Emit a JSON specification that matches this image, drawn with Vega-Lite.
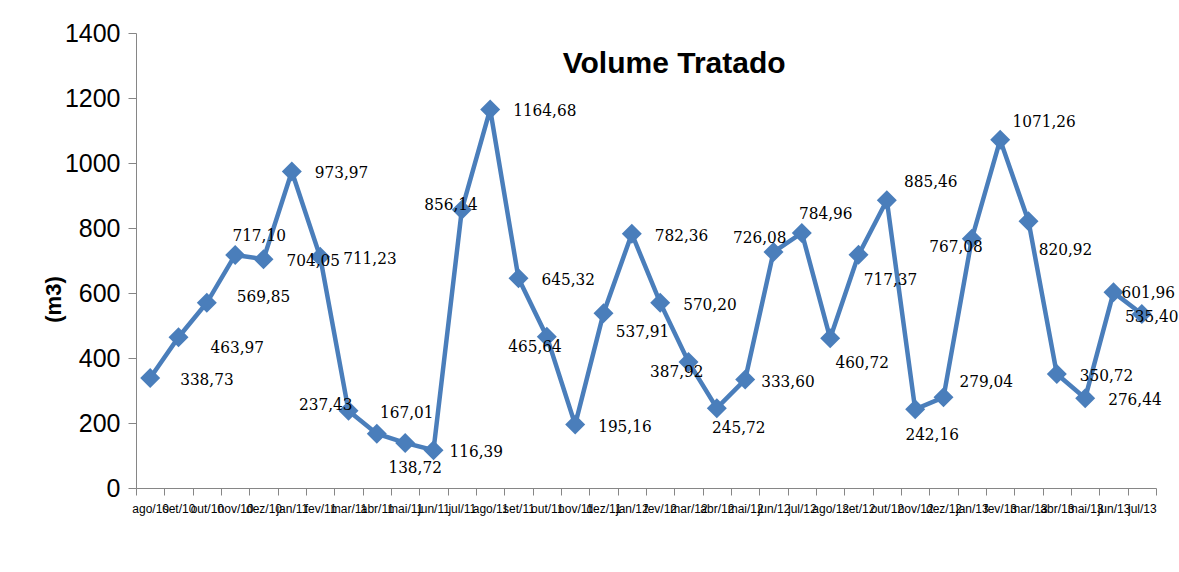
{
  "$schema": "https://vega.github.io/schema/vega-lite/v6.json",
  "autosize": {"type": "none"},
  "padding": {"left": 136, "top": 33, "right": 23, "bottom": 84},
  "width": 1020,
  "height": 455,
  "background": "white",
  "config": {
    "view": {"stroke": null},
    "axis": {"grid": false},
    "locale": {"number": {"decimal": ",", "thousands": ".", "grouping": [3], "currency": ["R$ ", ""]}},
    "text": {"font": "DejaVu Serif Condensed, Liberation Serif", "fontSize": 17, "color": "#000000", "baseline": "middle"}
  },
  "data": {"values": [
    {"mes": "ago/10", "volume": 338.73},
    {"mes": "set/10", "volume": 463.97},
    {"mes": "out/10", "volume": 569.85},
    {"mes": "nov/10", "volume": 717.10},
    {"mes": "dez/10", "volume": 704.05},
    {"mes": "jan/11", "volume": 973.97},
    {"mes": "fev/11", "volume": 711.23},
    {"mes": "mar/11", "volume": 237.43},
    {"mes": "abr/11", "volume": 167.01},
    {"mes": "mai/11", "volume": 138.72},
    {"mes": "jun/11", "volume": 116.39},
    {"mes": "jul/11", "volume": 856.14},
    {"mes": "ago/11", "volume": 1164.68},
    {"mes": "set/11", "volume": 645.32},
    {"mes": "out/11", "volume": 465.64},
    {"mes": "nov/11", "volume": 195.16},
    {"mes": "dez/11", "volume": 537.91},
    {"mes": "jan/12", "volume": 782.36},
    {"mes": "fev/12", "volume": 570.20},
    {"mes": "mar/12", "volume": 387.92},
    {"mes": "abr/12", "volume": 245.72},
    {"mes": "mai/12", "volume": 333.60},
    {"mes": "jun/12", "volume": 726.08},
    {"mes": "jul/12", "volume": 784.96},
    {"mes": "ago/12", "volume": 460.72},
    {"mes": "set/12", "volume": 717.37},
    {"mes": "out/12", "volume": 885.46},
    {"mes": "nov/12", "volume": 242.16},
    {"mes": "dez/12", "volume": 279.04},
    {"mes": "jan/13", "volume": 767.08},
    {"mes": "fev/13", "volume": 1071.26},
    {"mes": "mar/13", "volume": 820.92},
    {"mes": "abr/13", "volume": 350.72},
    {"mes": "mai/13", "volume": 276.44},
    {"mes": "jun/13", "volume": 601.96},
    {"mes": "jul/13", "volume": 535.40}
  ]},
  "encoding": {
    "x": {
      "field": "mes", "type": "ordinal", "sort": null,
      "scale": {"type": "band", "paddingInner": 0, "paddingOuter": 0},
      "axis": {"title": null, "domainColor": "#868686", "tickColor": "#868686", "tickSize": 7, "tickBand": "extent", "labelAngle": 0, "labelFont": "Liberation Sans", "labelFontSize": 12, "labelColor": "#000000", "labelOverlap": false, "labelPadding": 8, "labelBound": false}
    },
    "y": {
      "field": "volume", "type": "quantitative",
      "scale": {"domain": [0, 1400]},
      "axis": {"title": "(m3)", "values": [0, 200, 400, 600, 800, 1000, 1200, 1400], "format": "d", "domainColor": "#868686", "tickColor": "#868686", "tickSize": 8, "labelFont": "Liberation Sans", "labelFontSize": 25, "labelColor": "#000000", "labelPadding": 8, "titleFont": "Liberation Sans", "titleFontSize": 22, "titleFontWeight": "bold", "titleColor": "#000000", "titleX": -83, "titleY": 266, "titleAngle": -90, "titleBaseline": "middle", "titleAlign": "center"}
    }
  },
  "layer": [
    {"mark": {"type": "line", "color": "#4A7EBB", "strokeWidth": 4.5}},
    {"mark": {"type": "point", "shape": "diamond", "filled": true, "size": 400, "color": "#4A7EBB", "opacity": 1}},
    {
      "transform": [{"filter": {"field": "mes", "equal": "fev/12"}}],
      "mark": {"type": "text", "text": "Volume Tratado", "font": "Liberation Sans", "fontSize": 30, "fontWeight": "bold", "color": "#000000", "align": "center", "baseline": "alphabetic", "dx": 14},
      "encoding": {"y": {"datum": 1277, "type": "quantitative"}}
    },
    {
      "encoding": {"text": {"field": "volume", "type": "quantitative", "format": ".2f"}},
      "layer": [
        {"transform": [{"filter": {"field": "mes", "oneOf": ["dez/10", "jan/11", "fev/11", "ago/11", "set/11", "nov/11", "jan/12", "fev/12", "abr/13", "mai/13"]}}], "mark": {"type": "text", "align": "left", "dx": 23, "dy": 2}},
        {"transform": [{"filter": {"field": "mes", "oneOf": ["jun/11", "mai/12"]}}], "mark": {"type": "text", "align": "left", "dx": 16, "dy": 2}},
        {"transform": [{"filter": {"field": "mes", "oneOf": ["ago/10"]}}], "mark": {"type": "text", "align": "left", "dx": 30, "dy": 2}},
        {"transform": [{"filter": {"field": "mes", "oneOf": ["set/10"]}}], "mark": {"type": "text", "align": "left", "dx": 32, "dy": 11}},
        {"transform": [{"filter": {"field": "mes", "oneOf": ["out/10"]}}], "mark": {"type": "text", "align": "left", "dx": 30, "dy": -6}},
        {"transform": [{"filter": {"field": "mes", "oneOf": ["dez/12"]}}], "mark": {"type": "text", "align": "left", "dx": 16, "dy": -15}},
        {"transform": [{"filter": {"field": "mes", "oneOf": ["jun/13"]}}], "mark": {"type": "text", "align": "left", "dx": 8, "dy": 1}},
        {"transform": [{"filter": {"field": "mes", "oneOf": ["mar/11"]}}], "mark": {"type": "text", "align": "right", "dx": 4, "dy": -6}},
        {"transform": [{"filter": {"field": "mes", "oneOf": ["jul/11"]}}], "mark": {"type": "text", "align": "right", "dx": 16, "dy": -5}},
        {"transform": [{"filter": {"field": "mes", "oneOf": ["out/11", "mar/12"]}}], "mark": {"type": "text", "align": "right", "dx": 15, "dy": 10}},
        {"transform": [{"filter": {"field": "mes", "oneOf": ["jun/12"]}}], "mark": {"type": "text", "align": "right", "dx": 13, "dy": -14}},
        {"transform": [{"filter": {"field": "mes", "oneOf": ["jan/13"]}}], "mark": {"type": "text", "align": "right", "dx": 11, "dy": 8}},
        {"transform": [{"filter": {"field": "mes", "oneOf": ["nov/10", "jul/12"]}}], "mark": {"type": "text", "align": "center", "dx": 24, "dy": -19}},
        {"transform": [{"filter": {"field": "mes", "oneOf": ["abr/11"]}}], "mark": {"type": "text", "align": "center", "dx": 30, "dy": -21}},
        {"transform": [{"filter": {"field": "mes", "oneOf": ["mai/11"]}}], "mark": {"type": "text", "align": "center", "dx": 10, "dy": 25}},
        {"transform": [{"filter": {"field": "mes", "oneOf": ["dez/11"]}}], "mark": {"type": "text", "align": "center", "dx": 39, "dy": 19}},
        {"transform": [{"filter": {"field": "mes", "oneOf": ["abr/12"]}}], "mark": {"type": "text", "align": "center", "dx": 22, "dy": 20}},
        {"transform": [{"filter": {"field": "mes", "oneOf": ["ago/12", "set/12"]}}], "mark": {"type": "text", "align": "center", "dx": 32, "dy": 25}},
        {"transform": [{"filter": {"field": "mes", "oneOf": ["out/12", "fev/13"]}}], "mark": {"type": "text", "align": "center", "dx": 44, "dy": -18}},
        {"transform": [{"filter": {"field": "mes", "oneOf": ["nov/12"]}}], "mark": {"type": "text", "align": "center", "dx": 17, "dy": 26}},
        {"transform": [{"filter": {"field": "mes", "oneOf": ["mar/13"]}}], "mark": {"type": "text", "align": "center", "dx": 37, "dy": 29}},
        {"transform": [{"filter": {"field": "mes", "oneOf": ["jul/13"]}}], "mark": {"type": "text", "align": "center", "dx": 10, "dy": 3}}
      ]
    }
  ]
}
